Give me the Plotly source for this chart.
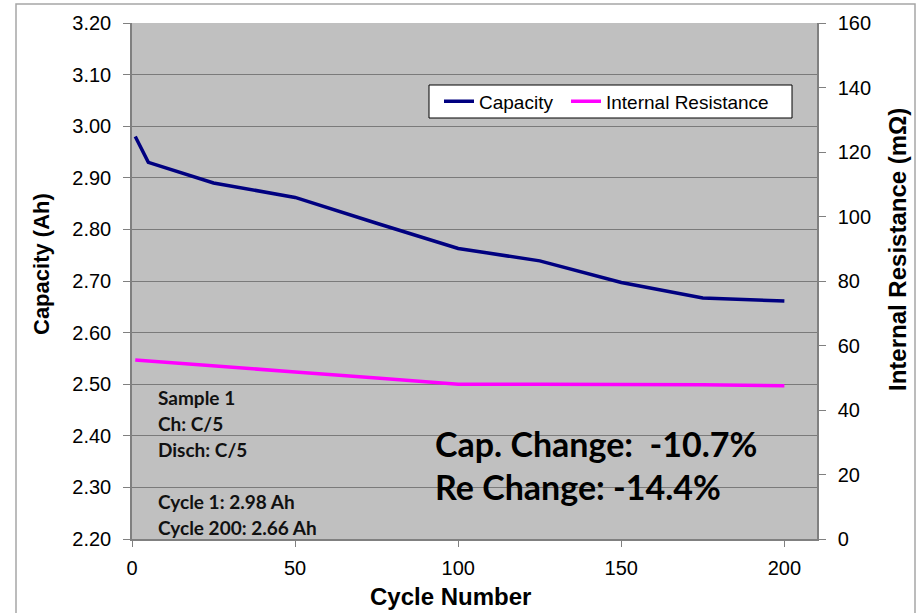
import plotly.graph_objects as go

# ---- data ----
cycles = [1, 5, 25, 50, 75, 100, 125, 150, 175, 200]
capacity_ah = [2.98, 2.93, 2.89, 2.862, 2.812, 2.763, 2.739, 2.697, 2.667, 2.661]
resistance_cycles = [1, 25, 50, 75, 100, 125, 150, 175, 200]
resistance_mohm = [55.5, 53.8, 51.8, 49.9, 48.0, 48.0, 48.0, 47.8, 47.5]

left_ticks = [2.20, 2.30, 2.40, 2.50, 2.60, 2.70, 2.80, 2.90, 3.00, 3.10, 3.20]
right_ticks = [0, 20, 40, 60, 80, 100, 120, 140, 160]
x_ticks = [0, 50, 100, 150, 200]

info_lines = ["Sample 1", "Ch: C/5", "Disch: C/5", "", "Cycle 1: 2.98 Ah", "Cycle 200: 2.66 Ah"]
change_lines = ["Cap. Change: \u00a0-10.7%", "Re Change: -14.4%"]

# ---- layout geometry (pixels) ----
W, H = 922, 613
L, R, T, B = 132, 817, 23, 539


def px(x):
    return (x - L) / (R - L)


def py(y):
    return (B - y) / (B - T)


fig = go.Figure()
fig.add_trace(go.Scatter(x=cycles, y=capacity_ah, mode="lines", name="Capacity",
                         line=dict(color="#000080", width=3.5), yaxis="y",
                         legend="legend"))
fig.add_trace(go.Scatter(x=resistance_cycles, y=resistance_mohm, mode="lines",
                         name="Internal Resistance",
                         line=dict(color="#FF00FF", width=3.5), yaxis="y2",
                         legend="legend2"))

tickfont = dict(family="Arial", size=20, color="#000000")
legfont = dict(family="Arial", size=19, color="#000000")

fig.update_layout(
    width=W, height=H,
    margin=dict(l=L, r=W - R, t=T, b=H - B, autoexpand=False),
    paper_bgcolor="#FFFFFF",
    plot_bgcolor="#C0C0C0",
    showlegend=True,
    legend=dict(orientation="h", x=px(439), y=py(101.5), xanchor="left", yanchor="middle",
                bgcolor="rgba(0,0,0,0)", borderwidth=0, font=legfont, itemwidth=30),
    legend2=dict(orientation="h", x=px(566), y=py(101.5), xanchor="left", yanchor="middle",
                 bgcolor="rgba(0,0,0,0)", borderwidth=0, font=legfont, itemwidth=30),
    xaxis=dict(range=[0, 210], tickvals=x_ticks, ticktext=[str(v) for v in x_ticks],
               showgrid=False, zeroline=False, showline=True, linecolor="#808080",
               linewidth=1.5, ticks="outside", ticklen=6, tickcolor="#808080",
               tickfont=tickfont, ticklabelstandoff=4),
    yaxis=dict(range=[2.20, 3.20], tickvals=left_ticks,
               ticktext=[f"{v:.2f}" for v in left_ticks],
               showgrid=True, gridcolor="#7A7A7A", gridwidth=1.2, zeroline=False,
               showline=True, linecolor="#808080", linewidth=1.5, ticks="outside",
               ticklen=7, tickcolor="#808080", tickfont=tickfont, ticklabelstandoff=8),
    yaxis2=dict(range=[0, 160], tickvals=right_ticks,
                ticktext=[str(v) for v in right_ticks],
                overlaying="y", side="right", showgrid=False, zeroline=False,
                showline=True, linecolor="#808080", linewidth=1.5, ticks="outside",
                ticklen=7, tickcolor="#808080", tickfont=tickfont, ticklabelstandoff=8),
    yaxis3=dict(range=[0, 160], tickvals=right_ticks, overlaying="y", side="right",
                anchor="x", showgrid=False, zeroline=False, showline=False,
                ticks="inside", ticklen=7, tickcolor="#808080", showticklabels=False),
)

# outer frame of the chart
fig.add_shape(type="rect", xref="paper", yref="paper",
              x0=px(16), x1=px(915), y0=py(640), y1=py(4),
              line=dict(color="#A6A6A6", width=1.5), fillcolor="rgba(0,0,0,0)", layer="below")

# legend box
fig.add_shape(type="rect", xref="paper", yref="paper",
              x0=px(429), x1=px(792), y0=py(118), y1=py(85),
              line=dict(color="#000000", width=1), fillcolor="#FFFFFF", layer="above")

# axis titles
fig.add_annotation(text="<b>Cycle Number</b>", xref="paper", yref="paper",
                   x=px(450), y=py(596), showarrow=False, xanchor="center", yanchor="middle",
                   font=dict(family="Arial", size=24, color="#000000"))
fig.add_annotation(text="<b>Capacity (Ah)</b>", xref="paper", yref="paper",
                   x=px(41), y=py(264), showarrow=False, textangle=-90,
                   xanchor="center", yanchor="middle",
                   font=dict(family="Arial", size=22, color="#000000"))
fig.add_annotation(text="<b>Internal Resistance (m\u03a9)</b>", xref="paper", yref="paper",
                   x=px(897), y=py(250), showarrow=False, textangle=-90,
                   xanchor="center", yanchor="middle",
                   font=dict(family="Arial", size=24, color="#000000"))

# sample info text block
info_y = [397, 423, 449, 475, 501, 527]
for txt, yy in zip(info_lines, info_y):
    if txt:
        fig.add_annotation(text=f"<b>{txt}</b>", xref="paper", yref="paper",
                           x=px(156), y=py(yy), showarrow=False, xanchor="left",
                           yanchor="middle",
                           font=dict(family="Lato", size=19, color="#111111"))

# change summary
for txt, yy in zip(change_lines, [443, 486]):
    fig.add_annotation(text=f"<b>{txt}</b>", xref="paper", yref="paper",
                       x=px(433), y=py(yy), showarrow=False, xanchor="left",
                       yanchor="middle",
                       font=dict(family="Lato", size=34, color="#000000"))

fig.write_html("out.html", config={"displayModeBar": False},
               post_script="document.body.style.margin='0px';document.body.style.padding='0px';")
